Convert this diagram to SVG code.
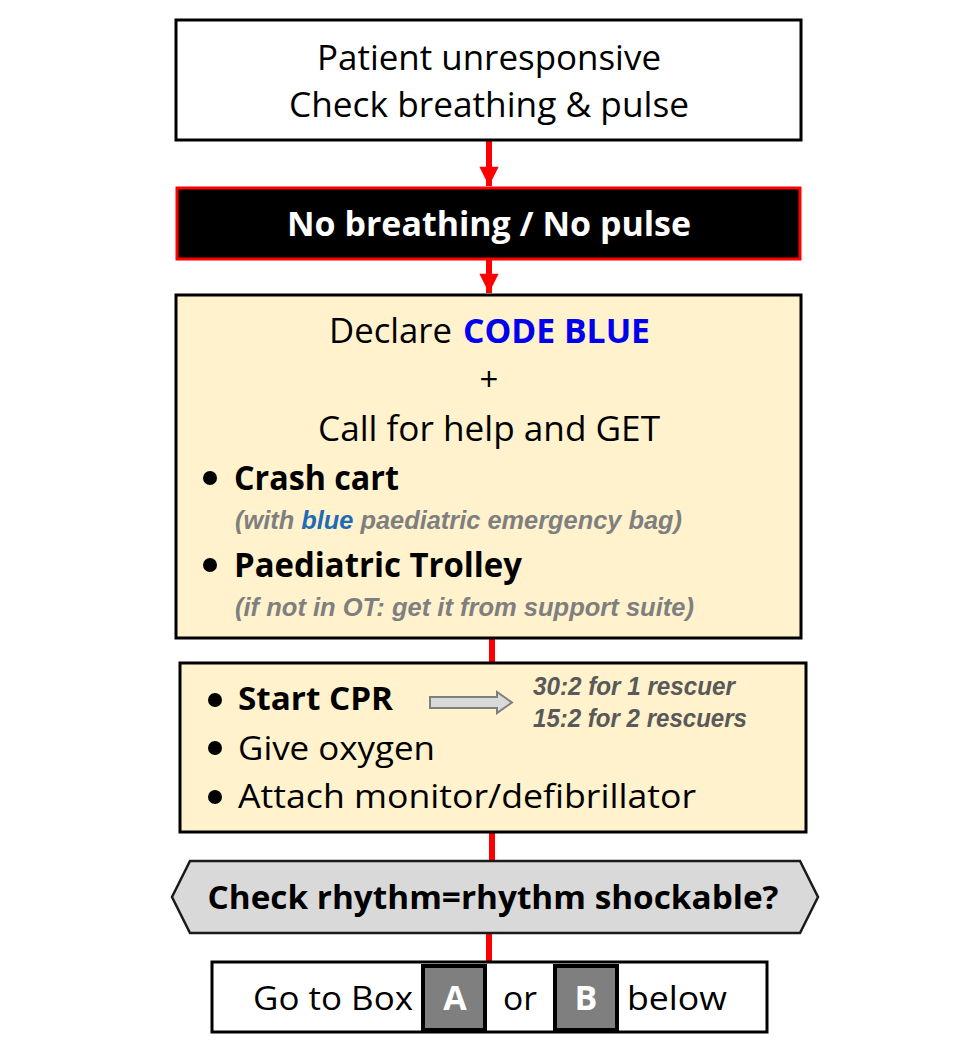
<svg xmlns="http://www.w3.org/2000/svg" width="969" height="1058" viewBox="0 0 969 1058">
<style>
.t{font-family:"Open Sans","Noto Sans",sans-serif;fill:#000}
.c{text-anchor:middle}
.b{font-weight:bold}
.n{font-family:"Liberation Sans",Arial,sans-serif;font-style:italic;font-weight:bold;fill:#7f7f7f;font-size:26px}
.box{stroke:#000;stroke-width:3}
.wire{stroke:#ff0000;stroke-width:6;fill:none}
</style>
<defs>
<marker id="ah" viewBox="0 0 10 10" refX="10" refY="5" markerWidth="3.4" markerHeight="3.2" orient="auto" markerUnits="strokeWidth">
<path d="M0,0 L10,5 L0,10 z" fill="#ff0000"/>
</marker>
</defs>
<rect width="969" height="1058" fill="#fff"/>
<g id="connectors">
<line class="wire" x1="489" y1="141" x2="489" y2="186" marker-end="url(#ah)"/>
<line class="wire" x1="489" y1="260" x2="489" y2="293" marker-end="url(#ah)"/>
<line class="wire" x1="492" y1="638" x2="492" y2="663"/>
<line class="wire" x1="492" y1="832" x2="492" y2="860"/>
<line class="wire" x1="489" y1="933" x2="489" y2="962"/>
</g>
<g id="n1">
<rect class="box" x="176" y="20" width="625" height="120" fill="#fff"/>
<text class="t c" x="489" y="70" font-size="34" textLength="344" lengthAdjust="spacingAndGlyphs">Patient unresponsive</text>
<text class="t c" x="489" y="117" font-size="34" textLength="400" lengthAdjust="spacingAndGlyphs">Check breathing &amp; pulse</text>
</g>
<g id="n2">
<rect x="177" y="188" width="623" height="71" fill="#000" stroke="#ff0000" stroke-width="3"/>
<text class="t c b" x="489" y="236" font-size="34" style="fill:#fff" textLength="404" lengthAdjust="spacingAndGlyphs">No breathing / No pulse</text>
</g>
<g id="n3">
<rect class="box" x="176" y="295" width="625" height="343" fill="#fff2cc"/>
<text class="t" x="329" y="343" font-size="34" textLength="123" lengthAdjust="spacingAndGlyphs">Declare</text>
<text class="t b" x="463" y="343" font-size="34" style="fill:#0000ee" textLength="187" lengthAdjust="spacingAndGlyphs">CODE BLUE</text>
<text class="t c" x="489" y="391" font-size="33">+</text>
<text class="t c" x="489" y="441" font-size="34" textLength="342" lengthAdjust="spacingAndGlyphs">Call for help and GET</text>
<circle cx="210" cy="478" r="7" fill="#000"/>
<text class="t b" x="234" y="490" font-size="34" textLength="165" lengthAdjust="spacingAndGlyphs">Crash cart</text>
<text class="n" x="235" y="529" textLength="447" lengthAdjust="spacingAndGlyphs">(with <tspan style="fill:#1f6cb5">blue</tspan> paediatric emergency bag)</text>
<circle cx="210" cy="565" r="7" fill="#000"/>
<text class="t b" x="234" y="577" font-size="34" textLength="288" lengthAdjust="spacingAndGlyphs">Paediatric Trolley</text>
<text class="n" x="235" y="616" textLength="459" lengthAdjust="spacingAndGlyphs">(if not in OT: get it from support suite)</text>
</g>
<g id="n4">
<rect class="box" x="180" y="663" width="626" height="169" fill="#fff2cc"/>
<circle cx="215" cy="700" r="7" fill="#000"/>
<text class="t b" x="238" y="710" font-size="33" textLength="155" lengthAdjust="spacingAndGlyphs">Start CPR</text>
<path d="M430,697 L497,697 L497,692 L512,702.5 L497,713 L497,708 L430,708 Z" fill="#d9d9d9" stroke="#7f7f7f" stroke-width="2"/>
<text class="n" x="533" y="695" style="fill:#595959" font-size="25" textLength="202" lengthAdjust="spacingAndGlyphs">30:2 for 1 rescuer</text>
<text class="n" x="533" y="727" style="fill:#595959" font-size="25" textLength="214" lengthAdjust="spacingAndGlyphs">15:2 for 2 rescuers</text>
<circle cx="215" cy="748" r="7" fill="#000"/>
<text class="t" x="238" y="760" font-size="33" textLength="197" lengthAdjust="spacingAndGlyphs">Give oxygen</text>
<circle cx="215" cy="797" r="7" fill="#000"/>
<text class="t" x="238" y="808" font-size="33" textLength="458" lengthAdjust="spacingAndGlyphs">Attach monitor/defibrillator</text>
</g>
<g id="n5">
<polygon points="190,861 800,861 818,897 800,933 190,933 172,897" fill="#d9d9d9" stroke="#1a1a1a" stroke-width="2.5"/>
<text class="t c b" x="493" y="909" font-size="33" textLength="571" lengthAdjust="spacingAndGlyphs">Check rhythm=rhythm shockable?</text>
</g>
<g id="n6">
<rect class="box" x="212" y="962" width="555" height="70" fill="#fff"/>
<text class="t" x="253" y="1010" font-size="33" textLength="160" lengthAdjust="spacingAndGlyphs">Go to Box</text>
<rect x="423" y="966" width="62" height="64" fill="#7f7f7f" stroke="#000" stroke-width="4"/>
<text class="t c b" x="455" y="1010" font-size="34" style="fill:#fff">A</text>
<text class="t" x="503" y="1010" font-size="33" textLength="34" lengthAdjust="spacingAndGlyphs">or</text>
<rect x="555" y="966" width="62" height="64" fill="#7f7f7f" stroke="#000" stroke-width="4"/>
<text class="t c b" x="586" y="1010" font-size="34" style="fill:#fff">B</text>
<text class="t" x="627" y="1010" font-size="33" textLength="100" lengthAdjust="spacingAndGlyphs">below</text>
</g>
</svg>
